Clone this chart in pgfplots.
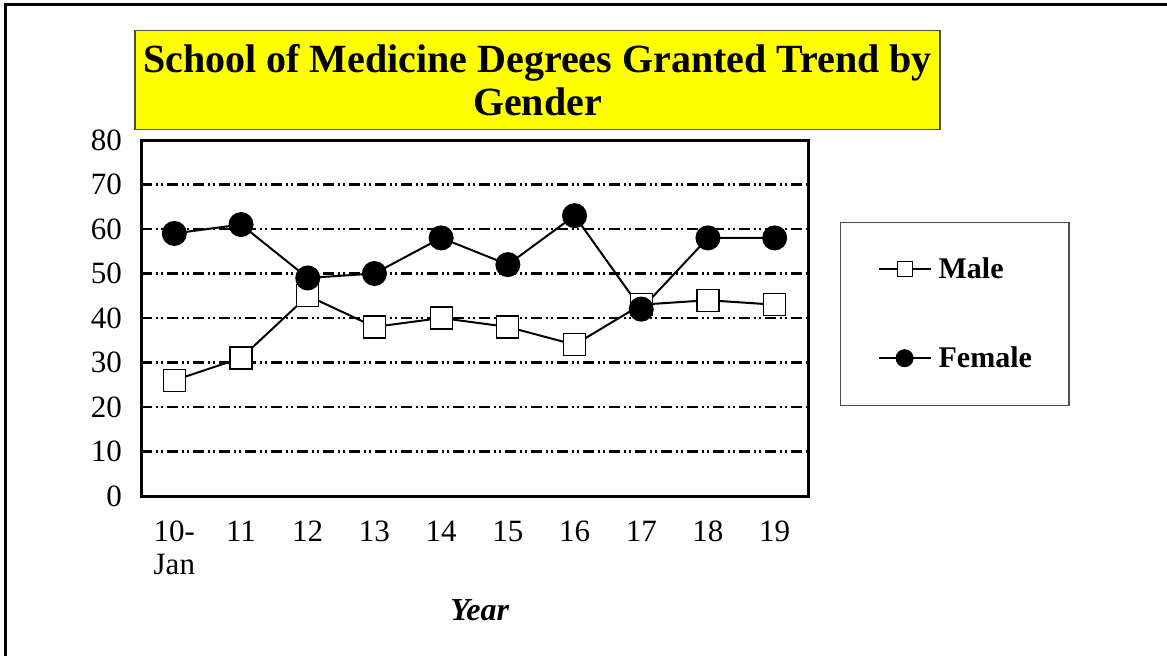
\documentclass[border=0pt]{standalone}
\usepackage{pgfplots}
\pgfplotsset{compat=1.18}
\usepackage{fontspec}
\setmainfont{Liberation Serif}

\pgfplotsset{
  legmale/.style={legend image code/.code={\draw[mark repeat=2,mark phase=2,##1,mark size=3.75bp]
    plot coordinates {(0bp,0bp) (13bp,0bp) (26bp,0bp)};}},
  legfemale/.style={legend image code/.code={\draw[mark repeat=2,mark phase=2,##1,mark size=4bp]
    plot coordinates {(0bp,0bp) (13bp,0bp) (26bp,0bp)};}},
}

\begin{document}
\begin{tikzpicture}
\useasboundingbox (0,0) rectangle (583.5bp,-328bp);
% outer frame (left and top only)
\draw[line width=1.4bp] (2.65bp,-328bp) -- (2.65bp,-2.35bp) -- (583.5bp,-2.35bp);
\begin{axis}[
  at={(70.5bp,-248bp)}, anchor=south west,
  scale only axis, width=333.5bp, height=178bp,
  xmin=-0.5, xmax=9.5, ymin=0, ymax=80,
  xtick={0,...,9},
  xticklabels={{10-\\Jan},11,12,13,14,15,16,17,18,19},
  ytick={0,10,...,80},
  major tick length=0pt,
  /pgf/number format/assume math mode=true,
  tick label style={font=\fontsize{15.5bp}{16.5bp}\selectfont},
  xticklabel style={align=center, yshift=-9bp},
  yticklabel style={xshift=-6bp},
  axis line style={line width=1.5bp},
  ymajorgrids,
  major grid style={black, line width=1.1bp,
    dash pattern=on 5.5bp off 1.75bp on 1bp off 1.75bp on 1bp off 2bp},
  title={School of Medicine Degrees Granted Trend by\\Gender},
  title style={at={(axis description cs:0.5945,1.135)}, anchor=center,
    fill={rgb,255:red,255;green,255;blue,0}, draw=gray!60!black, line width=0.6bp,
    minimum width=402.5bp, minimum height=49.5bp, inner sep=0pt,
    align=center, font=\fontsize{20bp}{21.5bp}\selectfont\bfseries},
  xlabel={\textbf{\textit{Year}}},
  xlabel style={at={(axis description cs:0.508,0)}, anchor=center,
    yshift=-57bp, font=\fontsize{16bp}{18bp}\selectfont},
  legend cell align=left,
  legend style={at={(axis description cs:1.048,0.770)}, anchor=north west,
    draw=gray!60!black, line width=0.6bp,
    inner xsep=18.5bp, inner ysep=17.5bp, row sep=32.5bp,
    nodes={inner sep=0pt},
    font=\fontsize{15bp}{16bp}\selectfont\bfseries,
    /tikz/every odd column/.append style={column sep=3.5bp}},
  clip=false,
]
\addplot[black, line width=1bp, mark=square*, mark size=5.5bp,
  mark options={fill=white, line width=0.6bp}, legmale]
  coordinates {(0,26) (1,31) (2,45) (3,38) (4,40) (5,38) (6,34) (7,43) (8,44) (9,43)};
\addlegendentry{Male}
\addplot[black, line width=1bp, mark=*, mark size=5.75bp,
  mark options={fill=black}, legfemale]
  coordinates {(0,59) (1,61) (2,49) (3,50) (4,58) (5,52) (6,63) (7,42) (8,58) (9,58)};
\addlegendentry{Female}
\end{axis}
\end{tikzpicture}
\end{document}
